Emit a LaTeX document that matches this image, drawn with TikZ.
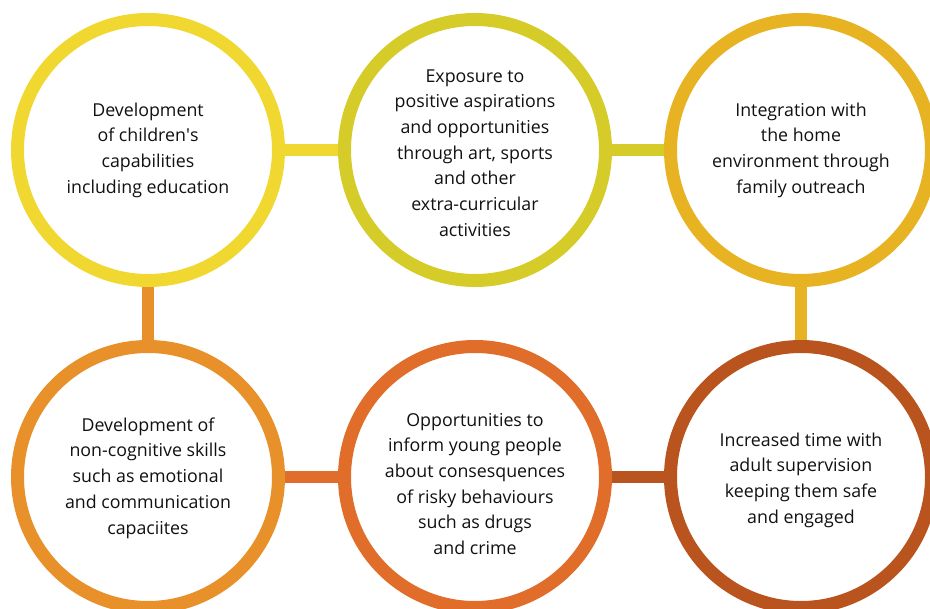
\documentclass[tikz,border=0pt]{standalone}
\usepackage{fontspec}
\setmainfont{Open Sans}
\usetikzlibrary{backgrounds}
\definecolor{cTL}{HTML}{F0D830}
\definecolor{cTM}{HTML}{D5CC2A}
\definecolor{cTR}{HTML}{E7B323}
\definecolor{cBL}{HTML}{E8902A}
\definecolor{cBM}{HTML}{E06D2A}
\definecolor{cBR}{HTML}{B9541F}
\definecolor{txt}{HTML}{111111}
\tikzset{
  ring/.style={circle, draw=#1, line width=13pt, minimum size=261pt, inner sep=0pt, fill=white},
  label text/.style={align=center, text=txt, inner sep=0pt, font=\fontsize{17.8}{25.7}\selectfont},
  link/.style={draw=#1, line width=12.5pt}
}
\begin{document}
\begin{tikzpicture}[x=1pt,y=-1pt]
\useasboundingbox (0,0) rectangle (930,609);
\node[ring=cTL] (tl) at (148,150) {};
\node[ring=cTM] (tm) at (475,150) {};
\node[ring=cTR] (tr) at (801,150) {};
\node[ring=cBL] (bl) at (148,477) {};
\node[ring=cBM] (bm) at (475,477) {};
\node[ring=cBR] (br) at (801,477) {};
\node[label text] (tlt) at (148,150) {Development\\of children\textquotesingle s\\capabilities\\including education};
\node[label text] (tmt) at (475,153) {Exposure to\\positive aspirations\\and opportunities\\through art, sports\\and other\\extra-curricular\\activities};
\node[label text] (trt) at (801,150) {Integration with\\the home\\environment through\\family outreach};
\node[label text] (blt) at (148,478) {Development of\\non-cognitive skills\\such as emotional\\and communication\\capaciites};
\node[label text] (bmt) at (475,484) {Opportunities to\\inform young people\\about consesquences\\of risky behaviours\\such as drugs\\and crime};
\node[label text] (brt) at (801,480) {Increased time with\\adult supervision\\keeping them safe\\and engaged};
\begin{pgfonlayer}{background}
\draw[link=cTL] (tl) -- (tm);
\draw[link=cTM] (tm) -- (tr);
\draw[link=cBL] (tl) -- (bl);
\draw[link=cTR] (tr) -- (br);
\draw[link=cBM] (bl) -- (bm);
\draw[link=cBR] (bm) -- (br);
\end{pgfonlayer}
\end{tikzpicture}
\end{document}
